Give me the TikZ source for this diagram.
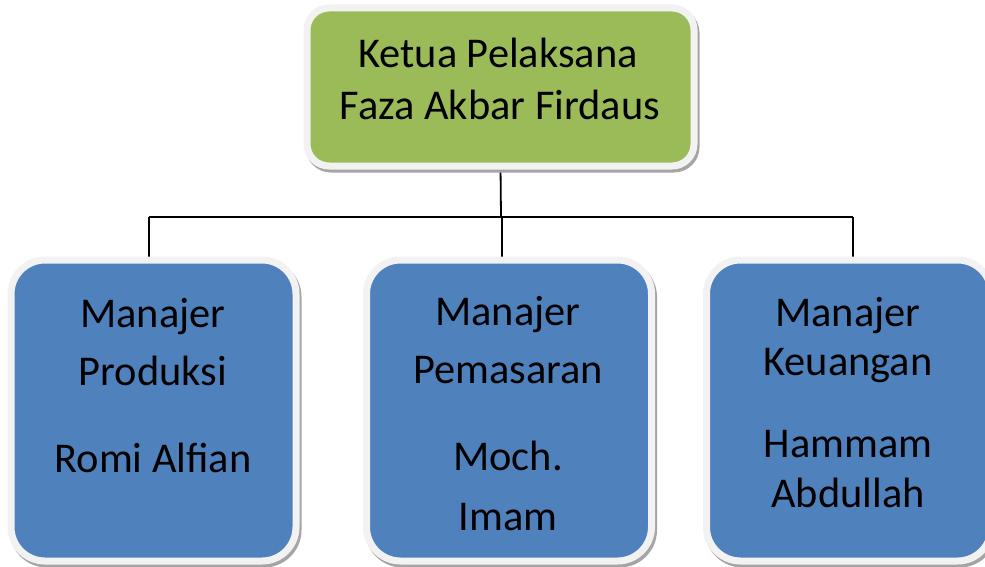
\documentclass[tikz,border=0pt]{standalone}
\usepackage{fontspec}
\setmainfont{Carlito}
\usetikzlibrary{backgrounds}
\definecolor{boxgreen}{HTML}{9BBB59}
\definecolor{boxblue}{HTML}{4F81BD}
\definecolor{rimgray}{HTML}{F2F2F2}
\definecolor{shadegray}{HTML}{A5A5A5}
\tikzset{
  orgbox/.style={rectangle, draw=rimgray, line width=7pt, inner sep=0pt, outer sep=0pt,
    preaction={draw=shadegray, fill=shadegray, line width=7pt, transform canvas={xshift=2pt, yshift=-3pt}}},
  headbox/.style={orgbox, fill=boxgreen, rounded corners=22pt, minimum width=387pt, minimum height=158pt},
  mgrbox/.style={orgbox, fill=boxblue, rounded corners=34pt, minimum width=285pt, minimum height=301pt},
  txt/.style={anchor=base, inner sep=0pt, font=\fontsize{42.4}{50}\selectfont},
  link/.style={line width=1.8pt, draw=black}
}
\begin{document}
\begin{tikzpicture}[x=1pt, y=-1pt]
\useasboundingbox (0,0) rectangle (985,567);
\clip (0,0) rectangle (985,567);

\node[headbox] (top) at (500.5,87) {};
\node[mgrbox] (left) at (153.5,410.5) {};
\node[mgrbox] (mid) at (509,410.5) {};
\node[mgrbox] (right) at (849,410.5) {};

\coordinate (bus) at (501,217);
\coordinate (busL) at (149,217);
\coordinate (busM) at (502,217);
\coordinate (busR) at (853,217);

\begin{pgfonlayer}{background}
\fill[white] (0,0) rectangle (985,567);
\draw[link] (top.south) -- (bus);
\draw[link] (busL) -- (busR);
\draw[link] (busL) -- (busL |- left.north);
\draw[link] (busM) -- (busM |- mid.north);
\draw[link] (busR) -- (busR |- right.north);
\end{pgfonlayer}

% texts
\node[txt] (t1) at (498,68) {Ketua Pelaksana};
\node[txt] (t2) at (500,120) {Faza Akbar Firdaus};

\node[txt] (l1) at (153,327) {Manajer};
\node[txt] (l2) at (153,385) {Produksi};
\node[txt] (l3) at (153,472) {Romi Alfian};

\node[txt] (m1) at (508,325) {Manajer};
\node[txt] (m2) at (508,383) {Pemasaran};
\node[txt] (m3) at (508,470) {Moch.};
\node[txt] (m4) at (508,530) {Imam};

\node[txt] (r1) at (848,326) {Manajer};
\node[txt] (r2) at (848,375) {Keuangan};
\node[txt] (r3) at (848,457) {Hammam};
\node[txt] (r4) at (848,507) {Abdullah};
\end{tikzpicture}
\end{document}
